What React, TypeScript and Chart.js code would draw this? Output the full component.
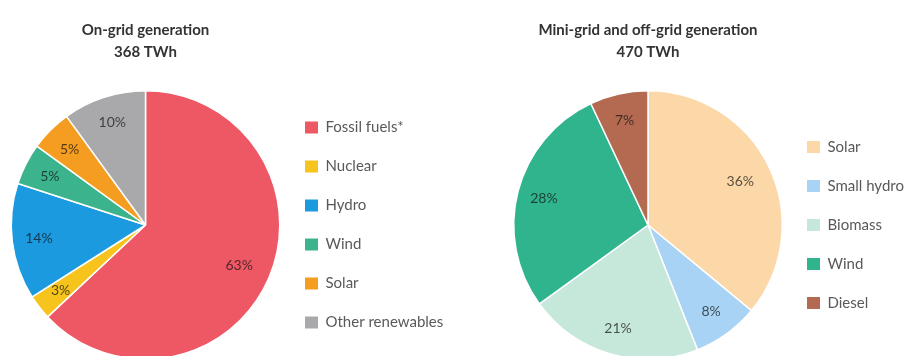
import React, { useEffect, useRef } from "react";
import { Chart, registerables } from "chart.js";

Chart.register(...registerables);

// ---- Data ----
const onGridTitle = ["On-grid generation", "368 TWh"];
const onGridLabels = ["Fossil fuels*", "Nuclear", "Hydro", "Wind", "Solar", "Other renewables"];
const onGridValues = [63, 3, 14, 5, 5, 10];
const onGridColors = ["#EE5764", "#F6C41C", "#1C9AE0", "#3BB48D", "#F59D21", "#A9A9AB"];

const offGridTitle = ["Mini-grid and off-grid generation", "470 TWh"];
const offGridLabels = ["Solar", "Small hydro", "Biomass", "Wind", "Diesel"];
const offGridValues = [36, 8, 21, 28, 7];
const offGridColors = ["#FCD8A8", "#A8D3F4", "#C6E8DA", "#2FB48E", "#B36A50"];

const FONT = "Lato, 'Open Sans', sans-serif";
const LEGEND_FONT_SIZE = 15;
const LEGEND_PAD = 24;
const BOX_W = 13;

const pctLabels = {
  id: "pctLabels",
  afterDatasetsDraw(chart: any) {
    const ctx = chart.ctx;
    const meta = chart.getDatasetMeta(0);
    const data = chart.data.datasets[0].data as number[];
    ctx.save();
    ctx.font = `14px ${FONT}`;
    ctx.fillStyle = "rgba(20,20,20,0.72)";
    ctx.textAlign = "center";
    ctx.textBaseline = "middle";
    meta.data.forEach((arc: any, i: number) => {
      const { x, y, startAngle, endAngle, outerRadius } = arc.getProps(
        ["x", "y", "startAngle", "endAngle", "outerRadius"],
        true
      );
      const mid = (startAngle + endAngle) / 2;
      const v = data[i];
      const f = v > 30 ? 0.76 : 0.8;
      ctx.fillText(`${v}%`, x + Math.cos(mid) * outerRadius * f, y + Math.sin(mid) * outerRadius * f);
    });
    ctx.restore();
  },
};

type PieProps = {
  title: string[];
  labels: string[];
  values: number[];
  colors: string[];
  left: number;
  width: number;
  padLeft: number;
  areaRight: number; // desired right edge of the pie area (canvas coords)
};

function PieChart({ title, labels, values, colors, left, width, padLeft, areaRight }: PieProps) {
  const ref = useRef<HTMLCanvasElement>(null);
  useEffect(() => {
    if (!ref.current) return;
    // measure legend natural width so the pie area ends exactly at areaRight
    const mctx = ref.current.getContext("2d")!;
    mctx.font = `${LEGEND_FONT_SIZE}px ${FONT}`;
    const maxText = Math.max(...labels.map((l) => mctx.measureText(l).width));
    const legendW = LEGEND_PAD + BOX_W + LEGEND_FONT_SIZE / 2 + maxText + 10;
    const padRight = Math.max(0, width - areaRight - legendW);

    const baseGen = (Chart as any).overrides.doughnut.plugins.legend.labels.generateLabels;
    const chart = new Chart(ref.current, {
      type: "pie",
      data: {
        labels,
        datasets: [
          {
            data: values,
            backgroundColor: colors,
            borderColor: "#ffffff",
            borderWidth: 1.5,
          },
        ],
      },
      options: {
        responsive: false,
        animation: false,
        devicePixelRatio: 1,
        layout: { padding: { left: padLeft, right: padRight, top: 0, bottom: 0 } },
        plugins: {
          tooltip: { enabled: false },
          title: {
            display: true,
            text: title,
            fullSize: false,
            color: "#333333",
            font: { family: FONT, size: 15, weight: "bold", lineHeight: "22px" },
            padding: { top: 19, bottom: 27 },
          },
          legend: {
            position: "right",
            fullSize: false,
            labels: {
              boxWidth: BOX_W,
              boxHeight: 12,
              padding: LEGEND_PAD,
              color: "#595959",
              font: { family: FONT, size: LEGEND_FONT_SIZE },
              generateLabels: (c: any) =>
                baseGen(c).map((it: any) => ({ ...it, lineWidth: 0 })),
            },
          },
        },
      } as any,
      plugins: [pctLabels],
    });
    return () => chart.destroy();
  }, []);
  return (
    <canvas
      ref={ref}
      width={width}
      height={360}
      style={{ position: "absolute", left, top: 0, width, height: 360 }}
    />
  );
}

export default function App() {
  return (
    <div
      style={{
        position: "fixed",
        left: 0,
        top: 0,
        width: 917,
        height: 356,
        overflow: "hidden",
        background: "#ffffff",
      }}
    >
      <PieChart
        title={onGridTitle}
        labels={onGridLabels}
        values={onGridValues}
        colors={onGridColors}
        left={0}
        width={458}
        padLeft={10}
        areaRight={281}
      />
      <PieChart
        title={offGridTitle}
        labels={offGridLabels}
        values={offGridValues}
        colors={offGridColors}
        left={458}
        width={459}
        padLeft={55}
        areaRight={325}
      />
    </div>
  );
}
